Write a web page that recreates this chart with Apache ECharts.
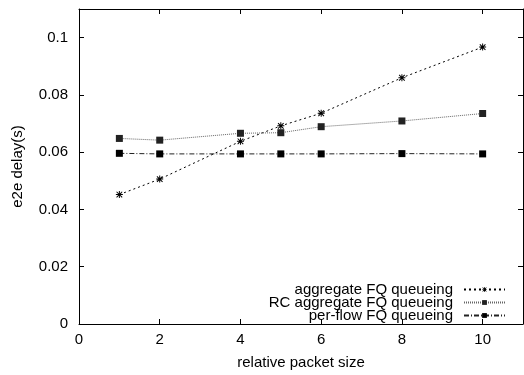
<!DOCTYPE html>
<html>
<head>
<meta charset="utf-8">
<script src="https://cdn.jsdelivr.net/npm/echarts@6/dist/echarts.min.js"></script>
<style>html,body{margin:0;padding:0;background:#fff}#c{width:524px;height:375px}</style>
</head>
<body>
<div id="c"></div>
<script>
const xValues = [1, 2, 4, 5, 6, 8, 10];
const aggregateFQ = [0.0452, 0.0506, 0.0638, 0.0692, 0.0736, 0.0860, 0.0967];
const rcAggregateFQ = [0.0648, 0.0642, 0.0666, 0.0668, 0.0689, 0.0709, 0.0735];
const perFlowFQ = [0.0596, 0.0594, 0.0594, 0.0594, 0.0594, 0.0595, 0.0594];
const seriesNames = ['aggregate FQ queueing', 'RC aggregate FQ queueing', 'per-flow FQ queueing'];
const xName = 'relative packet size';
const yName = 'e2e delay(s)';

const font = "'Liberation Sans', Arial, Helvetica, sans-serif";
const pairs = (ys) => xValues.map((x, i) => [x, ys[i]]);
const asterisk = 'path://M4.3,0L5.7,0L5.7,10L4.3,10ZM0,4.3L10,4.3L10,5.7L0,5.7ZM0.5,1.5L1.5,0.5L9.5,8.5L8.5,9.5ZM8.5,0.5L9.5,1.5L1.5,9.5L0.5,8.5Z';

const axisLine = {show: true, onZero: false, lineStyle: {color: '#000', width: 1}};
const axisTick = {show: true, inside: true, length: 5, lineStyle: {color: '#000'}};

const chart = echarts.init(document.getElementById('c'), null, {renderer: 'canvas'});
chart.setOption({
  animation: false,
  backgroundColor: '#fff',
  textStyle: {fontFamily: font, color: '#000'},
  grid: {left: 79, right: 1, top: 9, bottom: 47, show: false},
  legend: {
    orient: 'vertical',
    right: 13,
    top: 277,
    align: 'right',
    itemWidth: 41,
    itemHeight: 6,
    itemGap: -2,
    textStyle: {fontFamily: font, fontSize: 15, color: '#000', lineHeight: 14, padding: [0, 6, 0, 0]},
    data: seriesNames
  },
  xAxis: [{
    type: 'value', min: 0, max: 11, interval: 2,
    name: xName, nameLocation: 'middle', nameGap: 31,
    nameTextStyle: {fontFamily: font, fontSize: 15, color: '#000'},
    axisLine: axisLine,
    axisTick: axisTick,
    axisLabel: {fontFamily: font, fontSize: 15, color: '#000', margin: 8, showMaxLabel: false,
      formatter: v => (v % 2 === 0 ? String(v) : '')},
    splitLine: {show: false}
  }, {
    type: 'value', min: 0, max: 11, interval: 2, position: 'top',
    axisLine: axisLine,
    axisTick: axisTick,
    axisLabel: {show: false},
    splitLine: {show: false}
  }],
  yAxis: [{
    type: 'value', min: 0, max: 0.11, interval: 0.02,
    name: yName, nameLocation: 'middle', nameGap: 54,
    nameTextStyle: {fontFamily: font, fontSize: 15, color: '#000'},
    axisLine: axisLine,
    axisTick: axisTick,
    axisLabel: {fontFamily: font, fontSize: 15, color: '#000', margin: 11, showMaxLabel: false,
      formatter: v => String(+v.toFixed(2))},
    splitLine: {show: false}
  }, {
    type: 'value', min: 0, max: 0.11, interval: 0.02, position: 'right',
    axisLine: axisLine,
    axisTick: axisTick,
    axisLabel: {show: false},
    splitLine: {show: false}
  }],
  series: [{
    name: seriesNames[0], type: 'line', data: pairs(aggregateFQ),
    symbol: asterisk, symbolSize: 7,
    itemStyle: {color: '#000'},
    lineStyle: {color: '#000', width: 1, type: [2, 3]}
  }, {
    name: seriesNames[1], type: 'line', data: pairs(rcAggregateFQ),
    symbol: 'rect', symbolSize: 7,
    itemStyle: {color: '#222'},
    lineStyle: {color: '#666', width: 1, type: [1, 1]}
  }, {
    name: seriesNames[2], type: 'line', data: pairs(perFlowFQ),
    symbol: 'rect', symbolSize: 7,
    itemStyle: {color: '#000'},
    lineStyle: {color: '#222', width: 1, type: [5, 2, 1, 2]}
  }]
});
</script>
</body>
</html>
